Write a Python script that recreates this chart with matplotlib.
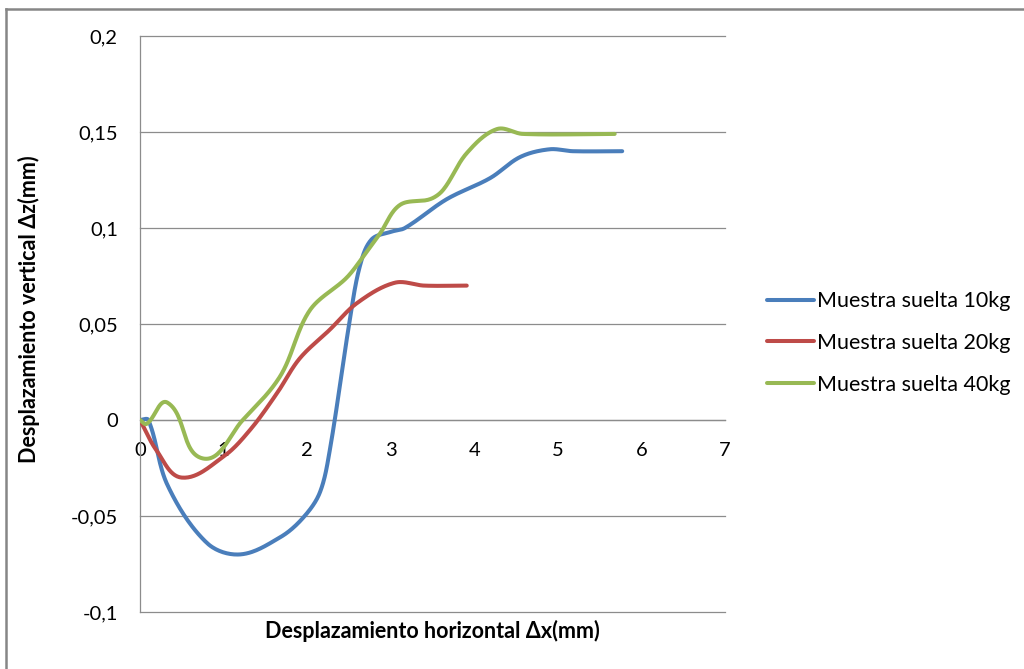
import numpy as np
import matplotlib
matplotlib.use("Agg")
import matplotlib.pyplot as plt
from matplotlib.lines import Line2D
from matplotlib.ticker import FuncFormatter, MultipleLocator

# Measured displacement series (horizontal dx, vertical dz), in mm
x_10kg = [0, 0.1, 0.33, 0.8, 1.2, 1.68, 1.95, 2.15, 2.27, 2.51, 2.63, 2.77, 3.0, 3.17,
          3.67, 4.19, 4.55, 4.9, 5.18, 5.77]
z_10kg = [0, 0, -0.034, -0.064, -0.070, -0.061, -0.051, -0.038, -0.016, 0.052, 0.080,
          0.094, 0.098, 0.100, 0.115, 0.126, 0.137, 0.141, 0.140, 0.140]

x_20kg = [0, 0.2, 0.5, 1.0, 1.32, 1.64, 1.91, 2.27, 2.6, 3.05, 3.4, 3.91]
z_20kg = [0, -0.016, -0.030, -0.019, -0.005, 0.014, 0.032, 0.047, 0.061, 0.0715,
          0.070, 0.070]

x_40kg = [0, 0.08, 0.33, 0.75, 1.23, 1.68, 2.03, 2.47, 2.67, 2.87, 3.11, 3.47, 3.63,
          3.91, 4.27, 4.58, 5.68]
z_40kg = [0, -0.002, 0.009, -0.020, 0.0, 0.023, 0.057, 0.074, 0.085, 0.097, 0.112,
          0.115, 0.120, 0.139, 0.1515, 0.149, 0.149]

series_labels = ["Muestra suelta 10kg", "Muestra suelta 20kg", "Muestra suelta 40kg"]
series_colors = ["#4A7EBB", "#BE4B48", "#98B954"]

x_ticks = [0, 1, 2, 3, 4, 5, 6, 7]

X_MIN, X_MAX, Y_MIN, Y_MAX = 0, 7, -0.1, 0.2


def smooth_curve(xs, ys, sx=1.0, sy=1.0, steps=30):
    """Cubic Bezier smoothing through every point; tangents follow the neighbouring
    points and handle lengths follow each segment's length (in scaled units)."""
    p = np.column_stack([np.asarray(xs, float) * sx, np.asarray(ys, float) * sy])
    n = len(p)
    tang = np.zeros_like(p)
    for i in range(n):
        a = p[i - 1] if i > 0 else p[i]
        b = p[i + 1] if i + 1 < n else p[i]
        d = b - a
        nd = np.hypot(*d)
        tang[i] = d / nd if nd > 0 else 0
    out = [p[0]]
    t = np.linspace(0, 1, steps)[1:, None]
    for i in range(n - 1):
        L = np.hypot(*(p[i + 1] - p[i]))
        c1 = p[i] + tang[i] * L / 3.0
        c2 = p[i + 1] - tang[i + 1] * L / 3.0
        seg = ((1 - t) ** 3) * p[i] + 3 * ((1 - t) ** 2) * t * c1 \
            + 3 * (1 - t) * t ** 2 * c2 + t ** 3 * p[i + 1]
        out.extend(seg)
    out = np.array(out)
    return out[:, 0] / sx, out[:, 1] / sy


plt.rcParams["font.family"] = ["Lato", "DejaVu Sans"]

fig = plt.figure(figsize=(10.24, 6.69), dpi=100)
ax_w, ax_h = 585, 576
ax = fig.add_axes([140 / 1024, 57 / 669, ax_w / 1024, ax_h / 669])

# scale factors so the smoothing works in on-screen proportions
sx = ax_w / (X_MAX - X_MIN)
sy = ax_h / (Y_MAX - Y_MIN)

grid_color = "#8C8C8C"
for xs, zs, lab, col in zip([x_10kg, x_20kg, x_40kg], [z_10kg, z_20kg, z_40kg],
                            series_labels, series_colors):
    cx, cz = smooth_curve(xs, zs, sx, sy)
    ax.plot(cx, cz, color=col, lw=2.9, solid_capstyle="round", solid_joinstyle="round",
            label=lab, zorder=3)

ax.set_xlim(X_MIN, X_MAX)
ax.set_ylim(Y_MIN, Y_MAX)
ax.set_xticks(x_ticks)
ax.yaxis.set_major_locator(MultipleLocator(0.05))
ax.yaxis.set_major_formatter(FuncFormatter(lambda v, pos: ("%g" % round(v, 3)).replace(".", ",")))

ax.grid(axis="y", color=grid_color, lw=0.9, zorder=1)
for gl in ax.get_ygridlines():
    gl.set_clip_on(False)

for side in ["top", "right"]:
    ax.spines[side].set_visible(False)
ax.spines["bottom"].set_position(("data", 0))
ax.spines["bottom"].set_color(grid_color)
ax.spines["left"].set_color(grid_color)
ax.spines["bottom"].set_linewidth(0.9)
ax.spines["left"].set_linewidth(0.9)

ax.tick_params(axis="both", length=0, labelsize=14.5, colors="#000000")
ax.tick_params(axis="x", pad=16)
ax.tick_params(axis="y", pad=16)

ax.set_xlabel("Desplazamiento horizontal Δx(mm)", fontsize=15.5, fontweight="bold")
ax.xaxis.set_label_coords(432 / 1024, (669 - 620) / 669, transform=fig.transFigure)
ax.set_ylabel("Desplazamiento vertical Δz(mm)", fontsize=15.5, fontweight="bold")
ax.yaxis.set_label_coords(40 / 1024, (669 - 309) / 669, transform=fig.transFigure)

ax.legend(loc="center left", bbox_to_anchor=(758 / 1024, (669 - 343) / 669),
          bbox_transform=fig.transFigure, frameon=False, fontsize=15.5,
          handlelength=2.2, handletextpad=0.15, labelspacing=1.0, borderaxespad=0)

# outer chart frame (left and top edges)
fig.add_artist(Line2D([6 / 1024, 6 / 1024], [0, 1 - 9 / 669], color="#868686", lw=1.8,
                      transform=fig.transFigure))
fig.add_artist(Line2D([6 / 1024, 1], [1 - 9 / 669, 1 - 9 / 669], color="#868686", lw=1.8,
                      transform=fig.transFigure))

fig.savefig("out.png", dpi=100)
